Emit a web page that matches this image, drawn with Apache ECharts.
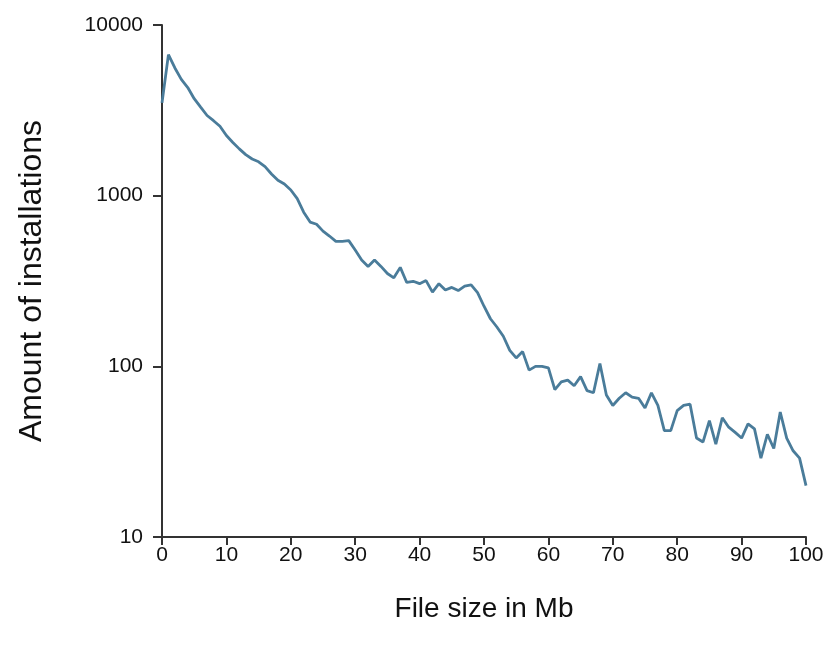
<!DOCTYPE html>
<html lang="en">
<head>
    <meta charset="UTF-8" />
    <title>Installations by file size</title>
    <script src="https://cdn.jsdelivr.net/npm/echarts@6/dist/echarts.min.js"></script>
    <style>
        body { margin: 0; background: #fff; }
    </style>
</head>
<body>
    <div id="chart" style="width:829px;height:652px;"></div>
    <script type="text/javascript">
        // file size in Mb, 0..100
        var sizes = [];
        for (var s = 0; s <= 100; s++) sizes.push(s);

        // amount of installations
        var installs = [
            3500, 6700, 5600, 4800, 4300, 3700, 3300, 2950, 2750, 2550,
            2250, 2050, 1880, 1740, 1640, 1580, 1480, 1340, 1230, 1170,
            1080, 960, 800, 700, 680, 620, 580, 540, 540, 545,
            480, 420, 385, 420, 385, 350, 330, 380, 310, 315,
            305, 318, 272, 305, 280, 290, 278, 295, 300, 270,
            225, 190, 170, 150, 124, 112, 122, 95, 100, 100,
            98, 73, 81, 83, 77, 87, 72, 70, 104, 68,
            59, 65, 70, 66, 65, 57, 70, 59, 42, 42,
            55, 59, 60, 38, 36, 48, 35, 50, 44, 41,
            38, 46, 43, 29, 40, 33, 54, 38, 32, 29,
            20
        ];

        var xTicks = [0, 10, 20, 30, 40, 50, 60, 70, 80, 90, 100];
        var yTicks = [10, 100, 1000, 10000];

        var points = sizes.map(function (x, i) { return [x, installs[i]]; });

        var chart = echarts.init(document.getElementById('chart'));
        var axisColor = '#333';
        var labelStyle = { fontFamily: 'Liberation Sans', fontSize: 21, color: '#111' };
        var option = {
            animation: false,
            grid: {
                left: 162,
                right: 23,
                top: 25,
                bottom: 115
            },
            xAxis: {
                type: 'value',
                min: xTicks[0],
                max: xTicks[xTicks.length - 1],
                interval: 10,
                name: 'File size in Mb',
                nameLocation: 'middle',
                nameGap: 58,
                nameTextStyle: { fontFamily: 'Liberation Sans', fontSize: 28, color: '#111' },
                axisLine: { lineStyle: { color: axisColor, width: 2 } },
                axisTick: { length: 8, lineStyle: { color: axisColor, width: 2 } },
                axisLabel: Object.assign({ margin: 8 }, labelStyle),
                splitLine: { show: false }
            },
            yAxis: {
                type: 'log',
                logBase: 10,
                min: yTicks[0],
                max: yTicks[yTicks.length - 1],
                name: 'Amount of installations',
                nameLocation: 'middle',
                nameRotate: 90,
                nameGap: 114,
                nameTextStyle: { fontFamily: 'Liberation Sans', fontSize: 32, color: '#111' },
                axisLine: { show: true, lineStyle: { color: axisColor, width: 2 } },
                axisTick: { show: true, length: 9, lineStyle: { color: axisColor, width: 2 } },
                axisLabel: Object.assign({
                    margin: 19,
                    formatter: function (v) { return String(Math.round(v)); }
                }, labelStyle),
                splitLine: { show: false }
            },
            series: [{
                type: 'line',
                data: points,
                showSymbol: false,
                lineStyle: { color: '#4a7c9a', width: 2.8 }
            }]
        };
        chart.setOption(option);
    </script>
</body>
</html>
